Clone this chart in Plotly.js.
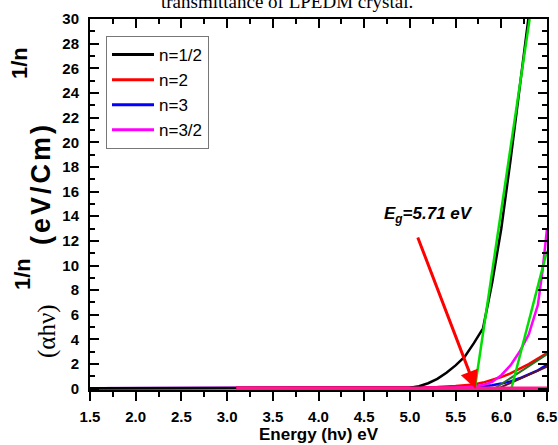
<!DOCTYPE html>
<html>
<head>
<meta charset="utf-8">
<script src="https://cdn.plot.ly/plotly-3.0.1.min.js"></script>
<style>html,body{margin:0;padding:0;background:#fff;}#chart{width:558px;height:445px;}</style>
</head>
<body>
<div id="chart"></div>
<script>
// Photon energy grid (eV)
const energy = [1.5, 2.0, 2.5, 3.0, 3.5, 4.0, 4.5, 5.0, 5.1, 5.2, 5.3, 5.4, 5.5, 5.6, 5.7, 5.8, 5.9, 6.0, 6.1, 6.2, 6.3, 6.4, 6.5];
// n = 1/2 (black)
const nHalf = [0.04, 0.04, 0.04, 0.05, 0.05, 0.05, 0.06, 0.08, 0.2, 0.45, 0.8, 1.3, 1.9, 2.6, 3.7, 4.9, 8.6, 13.0, 18.5, 24.2, 30.2, 36.0, 42.0];
// n = 3 (blue)
const nThree = [0.04, 0.04, 0.04, 0.04, 0.04, 0.04, 0.05, 0.05, 0.05, 0.06, 0.06, 0.07, 0.08, 0.1, 0.12, 0.18, 0.28, 0.42, 0.6, 0.85, 1.15, 1.5, 1.95];
// n = 2 (red), recorded from 3.1 eV
const energyN2 = [3.1, 3.5, 4.0, 4.5, 5.0, 5.3, 5.5, 5.7, 5.8, 5.9, 6.0, 6.1, 6.2, 6.3, 6.4, 6.5];
const nTwo = [0.1, 0.1, 0.1, 0.1, 0.12, 0.15, 0.22, 0.35, 0.5, 0.7, 0.95, 1.25, 1.6, 2.0, 2.45, 2.9];
// n = 3/2 (magenta)
const energyN32 = [1.5, 2.0, 2.5, 3.0, 3.5, 4.0, 4.5, 5.0, 5.5, 5.6, 5.7, 5.8, 5.9, 6.0, 6.1, 6.2, 6.3, 6.4, 6.45, 6.5];
const nThreeHalf = [0.05, 0.05, 0.05, 0.05, 0.05, 0.05, 0.06, 0.07, 0.1, 0.13, 0.18, 0.3, 0.55, 1.1, 1.9, 3.0, 4.4, 6.8, 9.5, 13.0];
// linear extrapolation (tangent) lines
const fit1X = [5.71, 6.31], fit1Y = [0, 30];
const fit2X = [6.11, 6.5], fit2Y = [0, 11.2];
const fit3X = [5.88, 6.5], fit3Y = [-0.2, 2.8];
const fit4X = [5.90, 6.5], fit4Y = [-0.2, 1.8];
const baseX = [3.1, 6.5], baseY = [0.05, 0.05];
const legendNames = ['n=1/2', 'n=2', 'n=3', 'n=3/2'];
const xTitle = 'Energy (h\u03bd) eV';
const gapLabel = '<b><i>E<sub>g</sub>=5.71 eV</i></b>';
const gapValue = 5.71;

const SANS = 'Liberation Sans, Arial, sans-serif';
const SERIF = 'Liberation Serif, Times New Roman, serif';

const traces = [
  {x: energy, y: nThree, mode: 'lines', name: legendNames[2], line: {color: '#0000ff', width: 2.5}, showlegend: false},
  {x: energyN2, y: nTwo, mode: 'lines', name: legendNames[1], line: {color: '#ff0000', width: 2.5}, showlegend: false},
  {x: energyN32, y: nThreeHalf, mode: 'lines', name: legendNames[3], line: {color: '#ff00ff', width: 2.5}, showlegend: false},
  {x: energy, y: nHalf, mode: 'lines', name: legendNames[0], line: {color: '#000000', width: 2.5}, showlegend: false},
  {x: fit3X, y: fit3Y, mode: 'lines', line: {color: '#2a6e1e', width: 2}, showlegend: false},
  {x: fit4X, y: fit4Y, mode: 'lines', line: {color: '#5a1028', width: 2}, showlegend: false},
  {x: fit1X, y: fit1Y, mode: 'lines', line: {color: '#00e000', width: 2.5}, showlegend: false},
  {x: fit2X, y: fit2Y, mode: 'lines', line: {color: '#00e000', width: 2.5}, showlegend: false},
  {x: baseX, y: baseY, mode: 'lines', line: {color: '#ff1a8c', width: 3.5}, showlegend: false},
  // legend entries
  {x: [null], y: [null], mode: 'lines', name: legendNames[0], line: {color: '#000000', width: 3}},
  {x: [null], y: [null], mode: 'lines', name: legendNames[1], line: {color: '#ff0000', width: 3}},
  {x: [null], y: [null], mode: 'lines', name: legendNames[2], line: {color: '#0000ff', width: 3}},
  {x: [null], y: [null], mode: 'lines', name: legendNames[3], line: {color: '#ff00ff', width: 3}},
  {x: [null], y: [null], xaxis: 'x2', mode: 'lines', showlegend: false, hoverinfo: 'skip'}
];

const pxX = px => (px - 90) / 457;
const pxY = py => (390 - py) / 371;

const layout = {
  width: 558, height: 445,
  margin: {l: 90, r: 11, t: 19, b: 55},
  paper_bgcolor: '#fff', plot_bgcolor: '#fff',
  font: {family: SANS, color: '#000'},
  xaxis: {
    range: [1.5, 6.5], dtick: 0.5, tick0: 1.5, tickformat: '.1f',
    showgrid: false, zeroline: false, showline: true, linecolor: '#000', linewidth: 2,
    ticks: 'outside', ticklen: 9, tickwidth: 2, tickcolor: '#000',
    minor: {dtick: 0.25, ticks: 'outside', ticklen: 5, tickwidth: 2, tickcolor: '#000'},
    tickfont: {family: SANS, size: 15, weight: 'bold'}, ticklabelstandoff: 3,
    title: {text: xTitle, font: {family: SANS, size: 17, weight: 'bold'}, standoff: 4}
  },
  xaxis2: {
    range: [1.5, 6.5], overlaying: 'x', side: 'top', anchor: 'y', dtick: 0.5, tick0: 1.5,
    showgrid: false, zeroline: false, showline: true, linecolor: '#000', linewidth: 2,
    ticks: 'inside', ticklen: 9, tickwidth: 2, tickcolor: '#000', showticklabels: false,
    minor: {dtick: 0.25, ticks: 'inside', ticklen: 5, tickwidth: 2, tickcolor: '#000'}
  },
  yaxis: {
    range: [-0.1, 30], dtick: 2, tick0: 0,
    showgrid: false, zeroline: false, showline: true, linecolor: '#000', linewidth: 2, mirror: 'ticks',
    ticks: 'inside', ticklen: 9, tickwidth: 2, tickcolor: '#000',
    minor: {dtick: 1, ticks: 'inside', ticklen: 5, tickwidth: 2, tickcolor: '#000'},
    tickfont: {family: SANS, size: 15, weight: 'bold'}, ticklabelstandoff: 6
  },
  legend: {
    x: pxX(106), y: pxY(36), xanchor: 'left', yanchor: 'top',
    bgcolor: '#fff', bordercolor: '#777', borderwidth: 1, itemwidth: 42,
    font: {family: SANS, size: 17, color: '#000'}, tracegroupgap: 0
  },
  annotations: [
    {xref: 'paper', yref: 'paper', x: pxX(287), y: pxY(1), xanchor: 'center', yanchor: 'middle',
     text: 'transmittance of LPEDM crystal.', showarrow: false, font: {family: SERIF, size: 19, color: '#000'}},
    // y-axis title pieces
    {xref: 'paper', yref: 'paper', x: pxX(47), y: pxY(331), xanchor: 'center', yanchor: 'middle', textangle: -90,
     text: '(\u03b1h\u03bd)', showarrow: false, font: {family: SERIF, size: 25, color: '#000'}},
    {xref: 'paper', yref: 'paper', x: pxX(22), y: pxY(274), xanchor: 'center', yanchor: 'middle', textangle: -90,
     text: '1/n', showarrow: false, font: {family: SANS, size: 22, weight: 'bold', color: '#000'}},
    {xref: 'paper', yref: 'paper', x: pxX(41), y: pxY(184), xanchor: 'center', yanchor: 'middle', textangle: -90,
     text: '<span style="letter-spacing:3px">(eV/Cm)</span>', showarrow: false, font: {family: SANS, size: 27, weight: 'bold', color: '#000'}},
    {xref: 'paper', yref: 'paper', x: pxX(20), y: pxY(63), xanchor: 'center', yanchor: 'middle', textangle: -90,
     text: '1/n', showarrow: false, font: {family: SANS, size: 22, weight: 'bold', color: '#000'}},
    // band gap arrow + label
    {xref: 'x', yref: 'y', axref: 'x', ayref: 'y', x: gapValue + 0.01, y: 0, ax: 5.08, ay: 12.4, text: '',
     showarrow: true, arrowcolor: '#ff0000', arrowwidth: 3, arrowhead: 2, arrowsize: 1.2, standoff: 0},
    {xref: 'x', yref: 'y', x: 4.70, y: 14.1, xanchor: 'left', yanchor: 'middle', text: gapLabel,
     showarrow: false, font: {family: SANS, size: 17, color: '#000'}}
  ]
};

Plotly.newPlot('chart', traces, layout, {displayModeBar: false, staticPlot: true});
</script>
</body>
</html>
